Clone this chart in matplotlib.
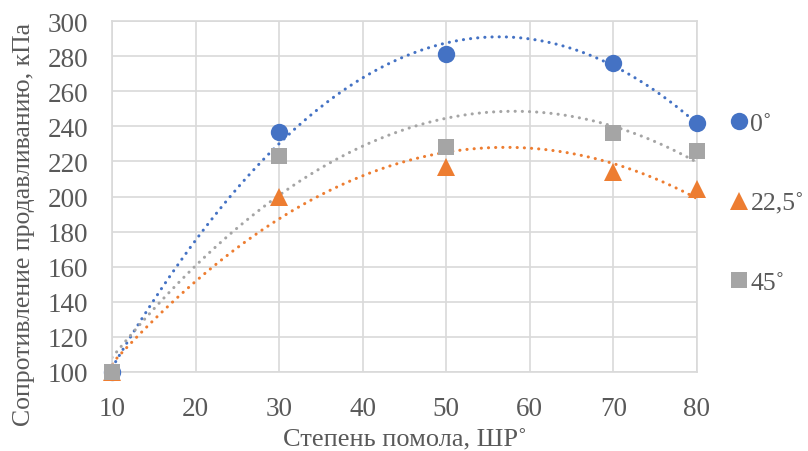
import matplotlib.pyplot as plt
import numpy as np

plt.rcParams['font.family'] = ['Liberation Serif', 'DejaVu Serif']

# Measured data
x = [10, 30, 50, 70, 80]
y_0 = [100, 237, 281, 276, 242]
y_225 = [100, 200, 217, 214, 204]
y_45 = [100, 223, 228, 236, 226]

labels = ['0˚', '22,5˚', '45˚']
colors = ['#4472C4', '#ED7D31', '#A5A5A5']
markers = ['o', '^', 's']
sizes = [12.5, 12.5, 12]
text_col = '#595959'

fig = plt.figure(figsize=(8.08, 4.52), dpi=100)
ax = fig.add_axes([0.1386, 0.1748, 0.7240, 0.7765])

xs = np.linspace(10, 80, 300)
handles = []
for ys, c, m, s, lab in zip([y_0, y_225, y_45], colors, markers, sizes, labels):
    # 2nd order polynomial trendline
    coef = np.polyfit(x, ys, 2)
    ax.plot(xs, np.polyval(coef, xs), color=c, lw=2.2,
            linestyle=(0, (0.05, 2.3)), dash_capstyle='round', zorder=2)
    h, = ax.plot(x, ys, linestyle='none', marker=m, color=c, markersize=s,
                 markeredgewidth=0, label=lab, zorder=3, clip_on=False)
    handles.append(h)

# redraw the overlapping first point so the gray square sits on top
ax.plot(x[0], y_45[0], linestyle='none', marker='s', color=colors[2],
        markersize=sizes[2], markeredgewidth=0, zorder=4, clip_on=False)

ax.set_xlim(10, 80)
ax.set_ylim(100, 300)
ax.set_xticks([10, 20, 30, 40, 50, 60, 70, 80])
ax.set_yticks(np.arange(100, 301, 20))
ax.grid(True, color='#D9D9D9', lw=1.2)
ax.set_axisbelow(True)
for sp in ax.spines.values():
    sp.set_color('#D9D9D9')
    sp.set_linewidth(1.2)
ax.tick_params(length=0, labelsize=19.5, labelcolor=text_col)
ax.tick_params(axis='y', pad=17)
ax.tick_params(axis='x', pad=17)

ax.set_xlabel('Степень помола, ШР˚', fontsize=19, color=text_col, labelpad=6)
ax.set_ylabel('Сопротивление продавливанию, кПа', fontsize=18.5,
              color=text_col, va='center')
ax.yaxis.set_label_coords(-0.150, 0.4245)

leg = fig.legend(handles=handles, loc='upper left', bbox_to_anchor=(0.889, 0.778),
                 frameon=False, fontsize=18.5, labelspacing=2.2, handlelength=0.6,
                 handletextpad=0.15, borderpad=0)
for t in leg.get_texts():
    t.set_color(text_col)

fig.savefig('out.png', dpi=100)
